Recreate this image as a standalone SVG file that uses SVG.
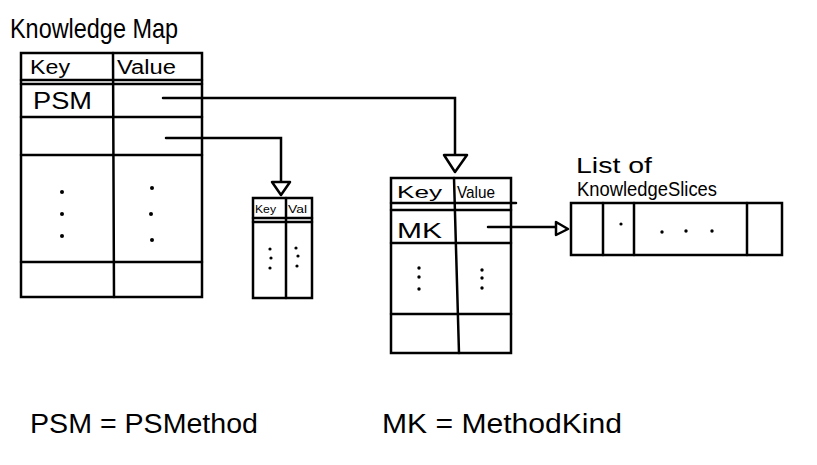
<svg xmlns="http://www.w3.org/2000/svg" width="817" height="465" viewBox="0 0 817 465">
<style>
.ln{stroke:#000;stroke-width:2.5;fill:none;stroke-linecap:round}
.tx{font-family:"Liberation Sans","DejaVu Sans",sans-serif;fill:#000}
.dot{fill:#000}
.ah{fill:#fff;stroke:#000;stroke-width:2.5;stroke-linejoin:round}
</style>
<rect width="817" height="465" fill="#fff"/>
<g id="knowledge-map">
<text class="tx" x="10" y="38" font-size="28" textLength="168" lengthAdjust="spacingAndGlyphs">Knowledge Map</text>
<rect class="ln" x="21" y="53" width="181" height="244"/>
<line class="ln" x1="113" y1="53" x2="114" y2="297"/>
<line class="ln" x1="21" y1="80" x2="202" y2="80"/>
<line class="ln" x1="21" y1="84" x2="202" y2="84"/>
<line class="ln" x1="21" y1="117" x2="202" y2="117"/>
<line class="ln" x1="21" y1="155" x2="202" y2="155"/>
<line class="ln" x1="21" y1="262" x2="202" y2="262"/>
<text class="tx" x="30" y="74" font-size="20" textLength="40" lengthAdjust="spacingAndGlyphs">Key</text>
<text class="tx" x="117" y="74" font-size="20" textLength="59" lengthAdjust="spacingAndGlyphs">Value</text>
<text class="tx" x="33" y="109" font-size="23" textLength="59" lengthAdjust="spacingAndGlyphs">PSM</text>
<circle class="dot" cx="62" cy="192" r="2"/><circle class="dot" cx="62" cy="214" r="2"/><circle class="dot" cx="62" cy="236" r="2"/>
<circle class="dot" cx="152" cy="188" r="2"/><circle class="dot" cx="151" cy="214" r="2"/><circle class="dot" cx="152" cy="240" r="2"/>
</g>
<g id="small-map">
<rect class="ln" x="253" y="198" width="59" height="100"/>
<line class="ln" x1="286" y1="198" x2="286" y2="298"/>
<line class="ln" x1="253" y1="218" x2="312" y2="218"/>
<line class="ln" x1="253" y1="222" x2="312" y2="222"/>
<text class="tx" x="255" y="213" font-size="11" textLength="21" lengthAdjust="spacingAndGlyphs">Key</text>
<text class="tx" x="288" y="213" font-size="11" textLength="19" lengthAdjust="spacingAndGlyphs">Val</text>
<circle class="dot" cx="270" cy="249" r="1.6"/><circle class="dot" cx="271" cy="258" r="1.6"/><circle class="dot" cx="270" cy="268" r="1.6"/>
<circle class="dot" cx="296" cy="248" r="1.6"/><circle class="dot" cx="298" cy="256" r="1.6"/><circle class="dot" cx="297" cy="266" r="1.6"/>
</g>
<g id="method-map">
<rect class="ln" x="391" y="178" width="120" height="175"/>
<line class="ln" x1="454" y1="178" x2="459" y2="353"/>
<line class="ln" x1="391" y1="203" x2="516" y2="203"/>
<line class="ln" x1="391" y1="210" x2="511" y2="210"/>
<line class="ln" x1="391" y1="243" x2="511" y2="243"/>
<line class="ln" x1="391" y1="314" x2="511" y2="314"/>
<text class="tx" x="397" y="198" font-size="17" textLength="45" lengthAdjust="spacingAndGlyphs">Key</text>
<text class="tx" x="457" y="198" font-size="17" textLength="38" lengthAdjust="spacingAndGlyphs">Value</text>
<text class="tx" x="397" y="238" font-size="22" textLength="45" lengthAdjust="spacingAndGlyphs">MK</text>
<circle class="dot" cx="419" cy="268" r="1.7"/><circle class="dot" cx="419" cy="277" r="1.7"/><circle class="dot" cx="419" cy="289" r="1.7"/>
<circle class="dot" cx="482" cy="270" r="1.7"/><circle class="dot" cx="482" cy="278" r="1.7"/><circle class="dot" cx="482" cy="288" r="1.7"/>
</g>
<g id="knowledge-slices">
<text class="tx" x="576" y="173" font-size="22" textLength="76" lengthAdjust="spacingAndGlyphs">List of</text>
<text class="tx" x="577" y="196" font-size="21" textLength="140" lengthAdjust="spacingAndGlyphs">KnowledgeSlices</text>
<rect class="ln" x="571" y="203" width="211" height="52"/>
<line class="ln" x1="603" y1="203" x2="603" y2="255"/>
<line class="ln" x1="634" y1="203" x2="634" y2="255"/>
<line class="ln" x1="747" y1="203" x2="747" y2="255"/>
<circle class="dot" cx="621" cy="224" r="1.6"/>
<circle class="dot" cx="662" cy="232" r="1.7"/><circle class="dot" cx="686" cy="231" r="1.7"/><circle class="dot" cx="712" cy="231" r="1.7"/>
</g>
<g id="connectors">
<polyline class="ln" points="163,98 455,98 455,155"/>
<polygon class="ah" points="444,155 467,155 455,172"/>
<polyline class="ln" points="166,138 281,138 281,182"/>
<polygon class="ah" points="272,182 290,182 281,195"/>
<line class="ln" x1="488" y1="227" x2="556" y2="227"/>
<polygon class="ah" points="556,222 556,235 568,229"/>
</g>
<g id="legend">
<text class="tx" x="30" y="433" font-size="27" textLength="228" lengthAdjust="spacingAndGlyphs">PSM = PSMethod</text>
<text class="tx" x="382" y="433" font-size="27" textLength="240" lengthAdjust="spacingAndGlyphs">MK = MethodKind</text>
</g>
</svg>
